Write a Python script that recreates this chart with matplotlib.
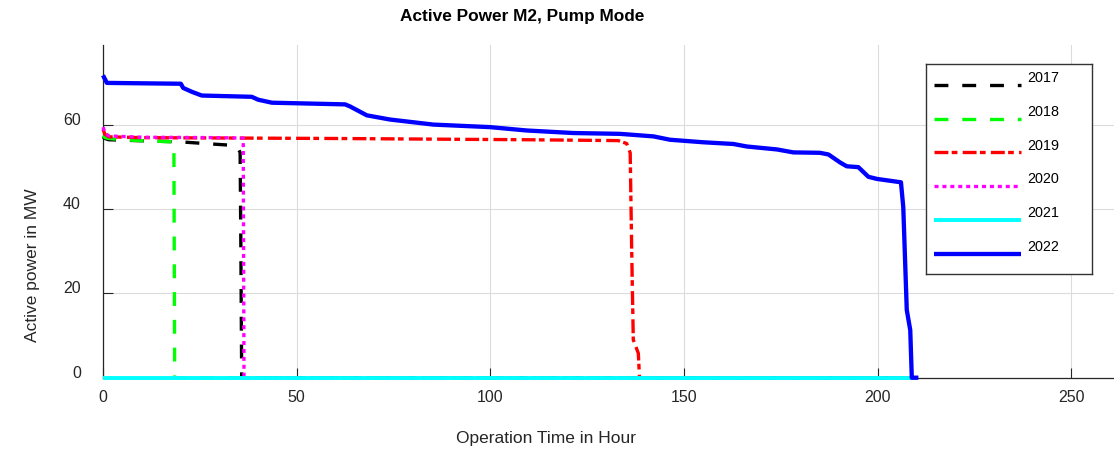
import matplotlib
matplotlib.use("Agg")
from matplotlib import pyplot as plt
from matplotlib.transforms import ScaledTranslation

plt.rcParams["font.family"] = ["Liberation Sans", "DejaVu Sans"]
plt.rcParams["lines.scale_dashes"] = False

# Sorted active power per year (duration curves), hours vs MW
years = ["2017", "2018", "2019", "2020", "2021", "2022"]

hours_2017 = [0, 0.5, 1.5, 5, 12, 20, 28, 33, 34.8, 35.4, 35.6, 35.8, 210]
mw_2017 = [57.2, 56.8, 56.5, 56.4, 56.2, 56.0, 55.5, 55.2, 54.5, 53.5, 30.0, 0, 0]

hours_2018 = [0, 0.5, 1.5, 5, 12, 18.3, 18.5, 210]
mw_2018 = [57.5, 57.0, 56.8, 56.5, 56.2, 56.0, 0, 0]

hours_2019 = [0, 0.5, 1.5, 10, 60, 110, 133, 135.2, 136.1, 136.5, 136.9, 138.2, 138.5, 210]
mw_2019 = [59.0, 57.8, 57.2, 57.0, 56.8, 56.5, 56.3, 55.6, 53.4, 29.6, 9.0, 5.8, 0, 0]

hours_2020 = [0, 0.5, 1.5, 10, 30, 36.2, 36.4, 210]
mw_2020 = [59.5, 58.2, 57.4, 57.1, 57.0, 56.9, 0, 0]

hours_2021 = [0, 210]
mw_2021 = [0, 0]

hours_2022 = [0, 1, 20.1, 20.7, 22.9, 25.5, 38.4, 40.1, 43.6, 62.5, 63.8, 68.1, 74.1,
              85.3, 99.9, 109.4, 121.4, 133.5, 142.1, 146.4, 155.0, 162.7, 166.2, 174.0,
              178.2, 185.1, 187.3, 190.3, 192.0, 195.0, 197.6, 199.8, 206.0, 206.6,
              207.5, 208.4, 208.8, 210.5]
mw_2022 = [71.8, 70.0, 69.8, 68.8, 67.9, 67.0, 66.7, 66.0, 65.3, 64.9, 64.4, 62.3, 61.3,
           60.1, 59.5, 58.7, 58.1, 57.9, 57.3, 56.5, 55.9, 55.5, 54.9, 54.2,
           53.5, 53.4, 53.0, 51.1, 50.2, 50.0, 47.7, 47.2, 46.4, 40.5,
           16.1, 11.3, 0.0, 0.0]

hours = [hours_2017, hours_2018, hours_2019, hours_2020, hours_2021, hours_2022]
power = [mw_2017, mw_2018, mw_2019, mw_2020, mw_2021, mw_2022]

colors = ["black", "#00ff00", "red", "magenta", "cyan", "blue"]
styles = [
    dict(lw=2.4, dashes=(10, 10)),
    dict(lw=2.4, dashes=(10, 10)),
    dict(lw=2.4, dashes=(10, 2.4, 4.1, 3.8)),
    dict(lw=2.4, dashes=(2.9, 2.8)),
    dict(lw=2.8, ls="-"),
    dict(lw=3.1, ls="-"),
]

x_ticks = [0, 50, 100, 150, 200, 250]
y_ticks = [0, 20, 40, 60]

W, H = 1114, 449
fig = plt.figure(figsize=(W / 100, H / 100), dpi=100)
ax = fig.add_axes([103 / W, 1 - 377.7 / H, (W - 103) / W, (377.7 - 45) / H])

for x, y, c, st in zip(hours, power, colors, styles):
    ax.plot(x, y, color=c, clip_on=False, zorder=3, solid_capstyle="butt",
            dash_capstyle="butt", **st)

ax.set_xlim(0, 261)
ax.set_ylim(0, 79)
ax.set_xticks(x_ticks)
ax.set_yticks(y_ticks)
ax.grid(True, color="#dcdcdc", linewidth=0.8)
ax.set_axisbelow(True)
for side in ["top", "right"]:
    ax.spines[side].set_visible(False)
for side in ["left", "bottom"]:
    ax.spines[side].set_color("#262626")
    ax.spines[side].set_linewidth(0.9)
ax.tick_params(axis="both", direction="in", length=7, width=0.8, color="#262626",
               labelcolor="#262626", labelsize=11.5)
ax.tick_params(axis="y", pad=16)
ax.tick_params(axis="x", pad=9)

shift = ScaledTranslation(0, 0.06, fig.dpi_scale_trans)
for lbl in ax.get_yticklabels():
    lbl.set_transform(lbl.get_transform() + shift)

fig.text(522 / W, 1 - 17 / H, "Active Power M2, Pump Mode", ha="center", va="center",
         fontsize=12.4, fontweight="bold")
fig.text(546 / W, 1 - 438 / H, "Operation Time in Hour", ha="center", va="center",
         fontsize=12.5, color="#262626")
fig.text(33 / W, 1 - 265 / H, "Active power in MW", ha="center", va="center",
         rotation=90, fontsize=12.5, color="#262626")

# legend box drawn in its own small axes (pixel units)
lg = fig.add_axes([926 / W, 1 - 274 / H, 166 / W, 210 / H])
lg.set_xlim(0, 166)
lg.set_ylim(210, 0)
lg.set_xticks([])
lg.set_yticks([])
for sp in lg.spines.values():
    sp.set_color("#333333")
    sp.set_linewidth(1.0)
for i, (name, c, st) in enumerate(zip(years, colors, styles)):
    yy = 21 + 33.7 * i
    lg.plot([8.3, 95], [yy, yy], color=c, solid_capstyle="butt",
            dash_capstyle="butt", **st)
    lg.text(101.3, yy - 6.7, name, va="center", ha="left", fontsize=10.4)

fig.savefig("out.png", dpi=100)
